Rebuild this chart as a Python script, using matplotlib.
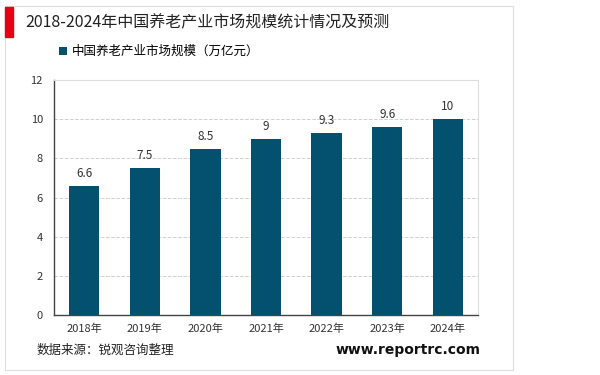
import matplotlib.pyplot as plt
from matplotlib.patches import Rectangle

plt.rcParams['font.family'] = ['Noto Sans CJK SC', 'DejaVu Sans']

years = ['2018年', '2019年', '2020年', '2021年', '2022年', '2023年', '2024年']
values = [6.6, 7.5, 8.5, 9, 9.3, 9.6, 10]
value_labels = ['6.6', '7.5', '8.5', '9', '9.3', '9.6', '10']
series_name = '中国养老产业市场规模（万亿元）'
title = '2018-2024年中国养老产业市场规模统计情况及预测'
source = '数据来源：锐观咨询整理'
site = 'www.reportrc.com'

BAR_COLOR = '#03506f'

fig = plt.figure(figsize=(6, 3.75), dpi=100)

# outer frame and red marker
fig.patches.append(Rectangle((5 / 600, 1 - 370 / 375), 508 / 600, 364 / 375,
                             transform=fig.transFigure, fill=False,
                             edgecolor='#dddddd', linewidth=0.8))
fig.patches.append(Rectangle((5 / 600, 1 - 37 / 375), 8 / 600, 30 / 375,
                             transform=fig.transFigure, color='#e60012'))

fig.text(25 / 600, 1 - 23 / 375, title, fontsize=11.5, va='center', color='#222222')

ax = fig.add_axes([54 / 600, 1 - 315 / 375, 424 / 600, 235 / 375])
x = range(len(years))
bars = ax.bar(x, values, width=0.5, color=BAR_COLOR, label=series_name, zorder=3)
for xi, v, lab in zip(x, values, value_labels):
    ax.text(xi, v + 0.3, lab, ha='center', va='bottom', fontsize=8.5, color='#333333')

ax.set_ylim(0, 12)
ax.set_yticks(range(0, 13, 2))
ax.set_xlim(-0.5, len(years) - 0.5)
ax.set_xticks(list(x))
ax.set_xticklabels(years, fontsize=8, color='#333333')
ax.tick_params(axis='y', labelsize=8, labelcolor='#333333', length=0, pad=8)
ax.tick_params(axis='x', length=0, pad=6)
ax.grid(axis='y', linestyle='--', color='#d0d0d0', linewidth=0.7, zorder=0)

for side in ['top', 'right']:
    ax.spines[side].set_color('#dddddd')
    ax.spines[side].set_linewidth(0.8)
for side in ['left', 'bottom']:
    ax.spines[side].set_color('#444444')
    ax.spines[side].set_linewidth(1.0)

ax.legend(loc='lower left', bbox_to_anchor=(54 / 600, 1 - 63 / 375),
          bbox_transform=fig.transFigure, frameon=False, fontsize=9,
          handlelength=0.6, handleheight=0.6, handletextpad=0.4, borderaxespad=0)

fig.text(37 / 600, 1 - 350 / 375, source, fontsize=9, va='center', color='#222222')
fig.text(481 / 600, 1 - 350 / 375, site, fontsize=10, va='center', ha='right',
         fontweight='bold', color='#111111', family=['DejaVu Sans'])

fig.savefig('out.png', dpi=100)
